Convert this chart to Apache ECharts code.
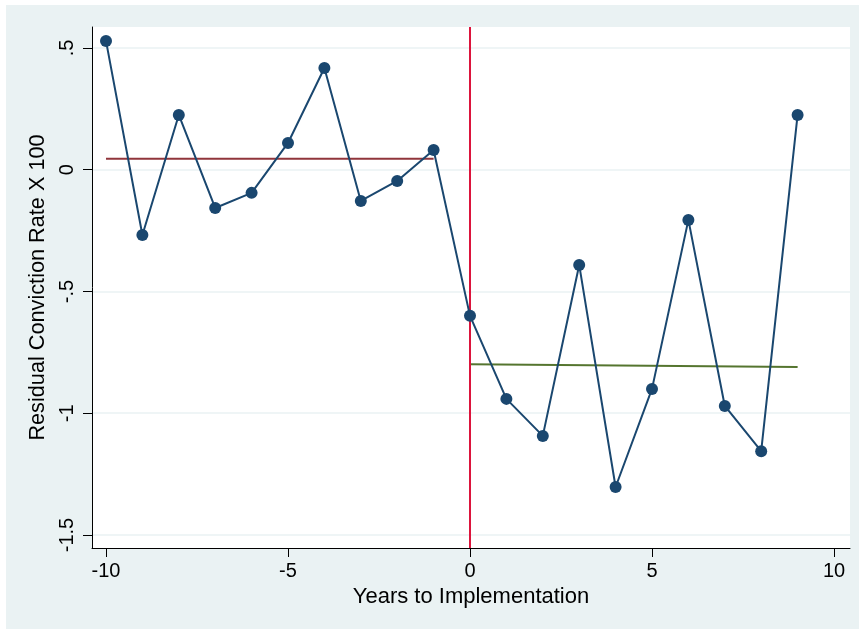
<!DOCTYPE html>
<html>
<head>
<meta charset="utf-8">
<script src="https://cdn.jsdelivr.net/npm/echarts@6/dist/echarts.min.js"></script>
<style>
  html, body { margin: 0; padding: 0; background: #ffffff; }
  #bg { position: absolute; left: 6px; top: 5px; width: 853px; height: 624px; background: #eaf2f3; }
  #chart { position: absolute; left: 0; top: 0; width: 859px; height: 629px; }
</style>
</head>
<body>
<div id="bg"></div>
<div id="chart"></div>
<script>
// Years relative to implementation
const years = [-10, -9, -8, -7, -6, -5, -4, -3, -2, -1, 0, 1, 2, 3, 4, 5, 6, 7, 8, 9];
// Residual conviction rate x 100
const residuals = [0.529, -0.268, 0.225, -0.157, -0.095, 0.110, 0.418, -0.128, -0.046, 0.081,
                   -0.600, -0.941, -1.093, -0.391, -1.303, -0.900, -0.206, -0.970, -1.156, 0.225];
// Fitted lines before / after implementation
const preFitX = [-10, -1];
const preFitY = [0.045, 0.045];
const postFitX = [0, 9];
const postFitY = [-0.799, -0.810];
// Tick values and labels
const xTicks = [-10, -5, 0, 5, 10];
const yTicks = [-1.5, -1, -0.5, 0, 0.5];
const yTickLabels = ['-1.5', '-1', '-.5', '0', '.5'];
const implementationYear = 0;

const font = 'Liberation Sans, Arial, Helvetica, sans-serif';
const chart = echarts.init(document.getElementById('chart'), null, { renderer: 'canvas' });

const zip = (xs, ys) => xs.map((x, i) => [x, ys[i]]);

chart.setOption({
  animation: false,
  backgroundColor: 'transparent',
  grid: {
    left: 92, right: 9, top: 27, bottom: 81,
    show: true, backgroundColor: '#ffffff', borderWidth: 0
  },
  xAxis: {
    type: 'value',
    min: -10.3846, max: 10.4396,
    name: 'Years to Implementation',
    nameLocation: 'middle',
    nameGap: 31,
    nameTextStyle: { fontFamily: font, fontSize: 22, color: '#000' },
    axisLine: { show: true, onZero: false, lineStyle: { color: '#000', width: 1 } },
    axisTick: { show: true, length: 9, customValues: xTicks, lineStyle: { color: '#000' } },
    axisLabel: { customValues: xTicks, fontFamily: font, fontSize: 20, color: '#000', margin: 13 },
    splitLine: { show: false }
  },
  yAxis: {
    type: 'value',
    min: -1.5534, max: 0.5862,
    name: 'Residual Conviction Rate X 100',
    nameLocation: 'middle',
    nameRotate: 90,
    nameGap: 35,
    nameTextStyle: { fontFamily: font, fontSize: 21.7, color: '#000' },
    axisLine: { show: true, onZero: false, lineStyle: { color: '#000', width: 1 } },
    axisTick: { show: true, length: 9, customValues: yTicks, lineStyle: { color: '#000' } },
    axisLabel: {
      customValues: yTicks, rotate: 90, fontFamily: font, fontSize: 20, color: '#000', margin: 15,
      formatter: v => { const i = yTicks.findIndex(t => Math.abs(t - v) < 1e-9); return i >= 0 ? yTickLabels[i] : ''; }
    },
    splitLine: { show: true, lineStyle: { color: '#eaf2f3', width: 1.5 } }
  },
  series: [
    {
      type: 'line', data: zip(preFitX, preFitY), symbol: 'none',
      lineStyle: { color: '#90353b', width: 2 }, z: 2, silent: true
    },
    {
      type: 'line', data: zip(postFitX, postFitY), symbol: 'none',
      lineStyle: { color: '#55752f', width: 2 }, z: 2, silent: true,
      markLine: {
        silent: true, symbol: 'none', label: { show: false },
        lineStyle: { color: '#dc143c', width: 2, type: 'solid' },
        data: [{ xAxis: implementationYear }]
      }
    },
    {
      type: 'line', data: zip(years, residuals),
      symbol: 'circle', symbolSize: 12,
      itemStyle: { color: '#1a476f' },
      lineStyle: { color: '#1a476f', width: 2 }, z: 5
    }
  ]
});
</script>
</body>
</html>
